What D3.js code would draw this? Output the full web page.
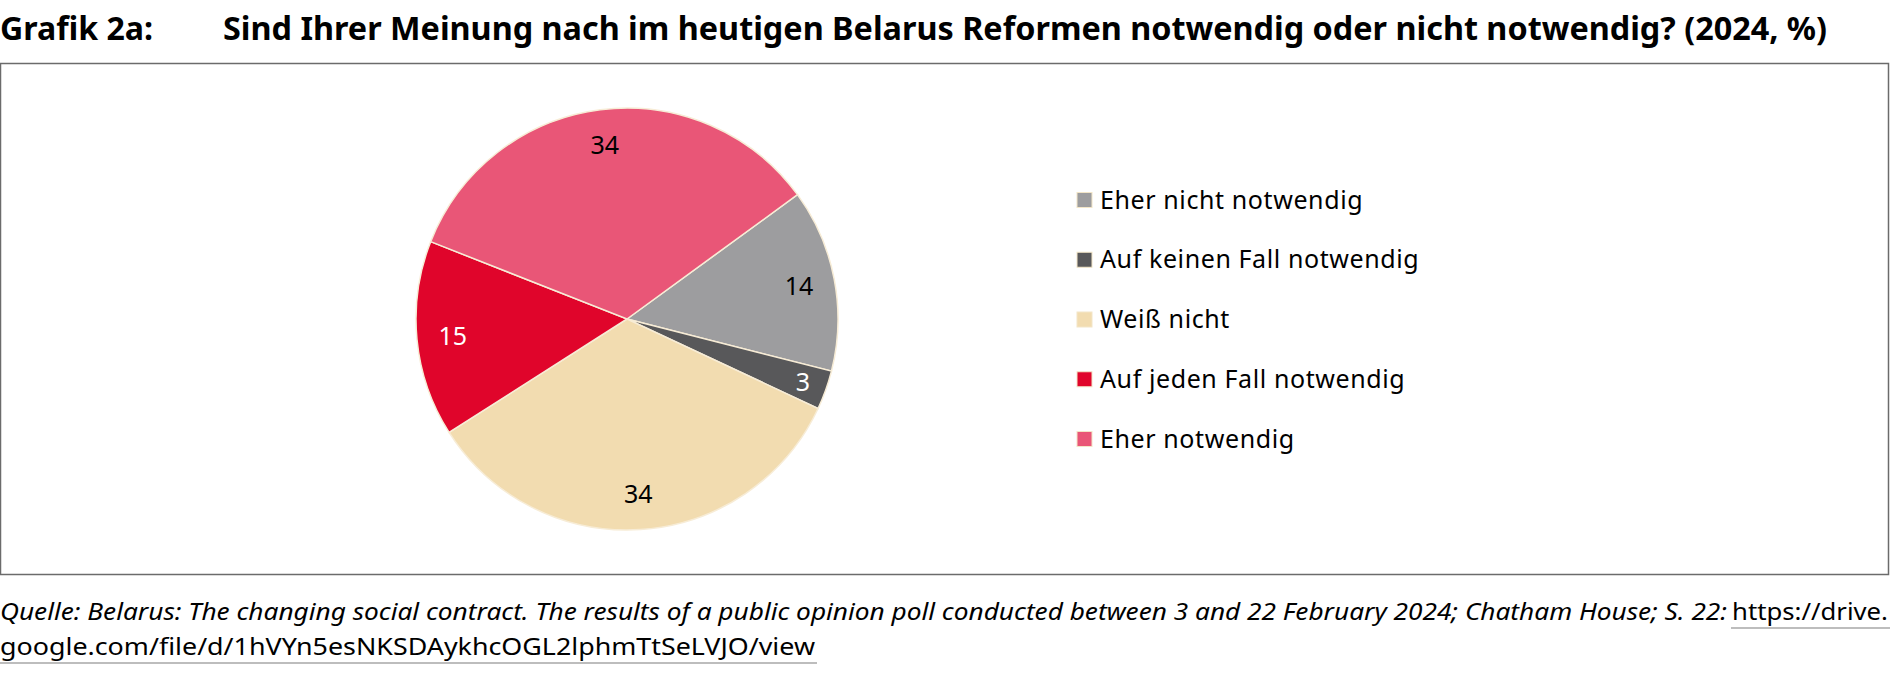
<!DOCTYPE html>
<html lang="de">

<head>
    <meta charset="UTF-8">
    <title>Grafik 2a</title>
    <script src="https://cdnjs.cloudflare.com/ajax/libs/d3/7.8.5/d3.min.js"></script>
    <style>
        body { margin: 0; background: #fff; }
        svg { display: block; font-family: 'Noto Sans', sans-serif; }
    </style>
</head>

<body>
    <script>
        // data, in legend order (clockwise from the grey slice)
        const categories = ['Eher nicht notwendig', 'Auf keinen Fall notwendig', 'Weiß nicht', 'Auf jeden Fall notwendig', 'Eher notwendig'];
        const values = [14, 3, 34, 15, 34];
        const colors = ['#9d9d9f', '#58585a', '#f2dcb0', '#e0052b', '#e95677'];
        const labelColors = ['#000', '#fff', '#000', '#fff', '#000'];

        const titleLabel = 'Grafik 2a:';
        const title = 'Sind Ihrer Meinung nach im heutigen Belarus Reformen notwendig oder nicht notwendig? (2024, %)';
        const source1 = 'Quelle: Belarus: The changing social contract. The results of a public opinion poll conducted between 3 and 22 February 2024; Chatham House; S. 22:';
        const link1 = 'https://drive.';
        const link2 = 'google.com/file/d/1hVYn5esNKSDAykhcOGL2lphmTtSeLVJO/view';

        const w = 1890;
        const h = 673;
        const cx = 627, cy = 319, r = 211;

        const svg = d3.select('body')
            .append('svg')
            .attr('width', w)
            .attr('height', h);

        // title
        svg.append('text')
            .attr('x', 0).attr('y', 40)
            .attr('font-size', 32).attr('font-weight', 700)
            .attr('textLength', 153).attr('lengthAdjust', 'spacingAndGlyphs')
            .text(titleLabel);
        svg.append('text')
            .attr('x', 223).attr('y', 40)
            .attr('font-size', 32).attr('font-weight', 700)
            .attr('textLength', 1604).attr('lengthAdjust', 'spacingAndGlyphs')
            .text(title);

        // frame
        svg.append('rect')
            .attr('x', 0.5).attr('y', 63.5)
            .attr('width', 1888).attr('height', 511)
            .attr('fill', 'none')
            .attr('stroke', '#6b6b6b')
            .attr('stroke-width', 1.5);

        // pie
        const start = 53.9 * Math.PI / 180;
        const pie = d3.pie().sort(null).startAngle(start).endAngle(start + 2 * Math.PI);
        const arcs = pie(values);
        const arc = d3.arc().innerRadius(0).outerRadius(r);

        const g = svg.append('g').attr('transform', `translate(${cx},${cy})`);

        g.selectAll('path')
            .data(arcs)
            .enter()
            .append('path')
            .attr('d', arc)
            .attr('fill', (d, i) => colors[i])
            .attr('stroke', '#f7ecd6')
            .attr('stroke-width', 1.5);

        g.selectAll('text')
            .data(arcs)
            .enter()
            .append('text')
            .attr('transform', d => {
                const k = d.data < 5 ? 0.885 : 0.83;
                const a = (d.startAngle + d.endAngle) / 2;
                return `translate(${Math.sin(a) * r * k},${-Math.cos(a) * r * k})`;
            })
            .attr('text-anchor', 'middle')
            .attr('dy', '0.35em')
            .attr('font-size', 25)
            .attr('fill', (d, i) => labelColors[i])
            .text(d => d.data);

        // legend
        const yLegend = d3.scalePoint().domain(categories).range([200, 439]);

        const legend = svg.selectAll('.legend')
            .data(categories)
            .enter()
            .append('g')
            .attr('class', 'legend')
            .attr('transform', d => `translate(1077,${yLegend(d)})`);

        legend.append('rect')
            .attr('x', 0).attr('y', -7.5)
            .attr('width', 15).attr('height', 15)
            .attr('fill', (d, i) => colors[i])
            .attr('stroke', '#f3e6c8')
            .attr('stroke-width', 1);

        legend.append('text')
            .attr('x', 23).attr('y', 8.5)
            .attr('font-size', 25)
            .attr('letter-spacing', 0.6)
            .attr('fill', '#000')
            .text(d => d);

        // source
        svg.append('text')
            .attr('x', 0).attr('y', 620)
            .attr('font-size', 24).attr('font-style', 'italic')
            .attr('textLength', 1727).attr('lengthAdjust', 'spacingAndGlyphs')
            .text(source1);
        svg.append('text')
            .attr('x', 1732).attr('y', 620)
            .attr('font-size', 24)
            .attr('textLength', 156).attr('lengthAdjust', 'spacingAndGlyphs')
            .text(link1);
        svg.append('text')
            .attr('x', 0).attr('y', 655)
            .attr('font-size', 24)
            .attr('textLength', 815).attr('lengthAdjust', 'spacingAndGlyphs')
            .text(link2);

        svg.append('line')
            .attr('x1', 1731).attr('x2', 1890).attr('y1', 628).attr('y2', 628)
            .attr('stroke', '#bdbdbd').attr('stroke-width', 2);
        svg.append('line')
            .attr('x1', 0).attr('x2', 817).attr('y1', 663).attr('y2', 663)
            .attr('stroke', '#bdbdbd').attr('stroke-width', 2);
    </script>
</body>

</html>
